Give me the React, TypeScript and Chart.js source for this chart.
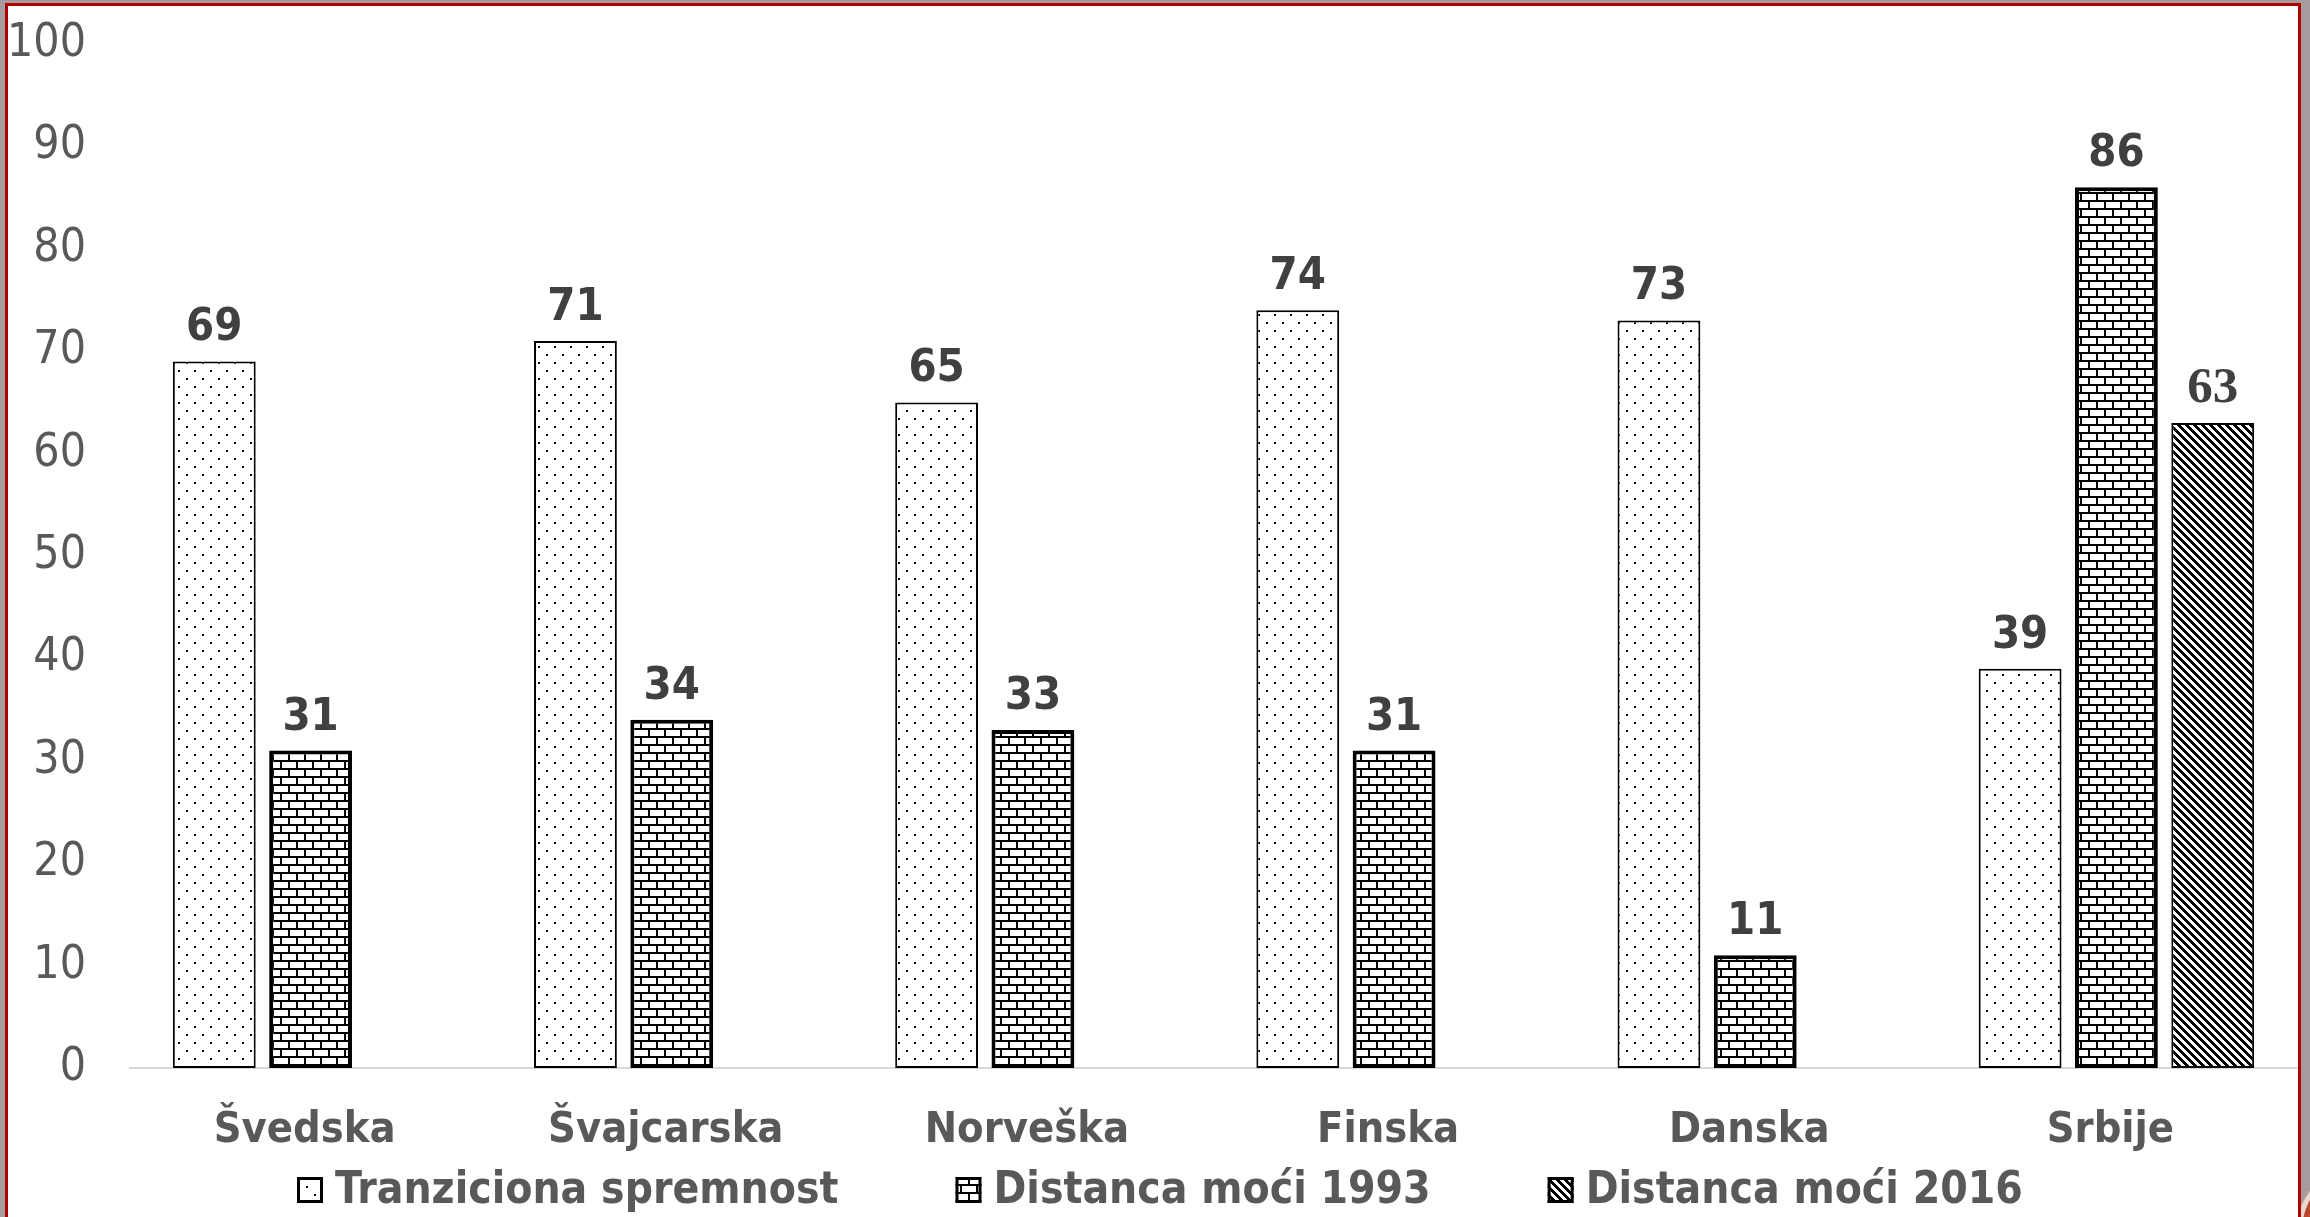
import React, { useEffect, useRef } from 'react';
import { Chart, registerables } from 'chart.js';

Chart.register(...registerables);

// ---------- data ----------
const categories = ['Švedska', 'Švajcarska', 'Norveška', 'Finska', 'Danska', 'Srbije'];
const seriesLabels = ['Tranziciona spremnost', 'Distanca moći 1993', 'Distanca moći 2016'];
const tranzicionaSpremnost = [69, 71, 65, 74, 73, 39];
const distancaMoci1993 = [31, 34, 33, 31, 11, 86];
const distancaMoci2016 = [null, null, null, null, null, 63];
const yMin = 0;
const yMax = 100;
const yStep = 10;

function hasFont(name: string): boolean {
  const ctx = document.createElement('canvas').getContext('2d')!;
  const s = 'Švajcarska mmwwii 0123456789';
  for (const b of ['monospace', 'serif', 'sans-serif']) {
    ctx.font = `40px ${b}`;
    const a = ctx.measureText(s).width;
    ctx.font = `40px "${name}", ${b}`;
    const c = ctx.measureText(s).width;
    if (Math.abs(a - c) > 0.5) return true;
  }
  return false;
}

function makeTile(w: number, h: number, draw: (g: CanvasRenderingContext2D) => void) {
  const c = document.createElement('canvas');
  c.width = w;
  c.height = h;
  const g = c.getContext('2d')!;
  g.fillStyle = '#ffffff';
  g.fillRect(0, 0, w, h);
  g.fillStyle = '#000000';
  draw(g);
  return c;
}

export default function App() {
  const canvasRef = useRef<HTMLCanvasElement | null>(null);

  useEffect(() => {
    const canvas = canvasRef.current!;
    const ctx0 = canvas.getContext('2d')!;

    let fam = '"DejaVu Sans", sans-serif';
    let k = 0.9;
    if (hasFont('DejaVu Sans Condensed')) {
      fam = '"DejaVu Sans Condensed", "DejaVu Sans", sans-serif';
      k = 1;
    }
    const tickSize = Math.round(46 * k);
    const catSize = Math.round(43 * k);
    const valSize = Math.round(45 * k);
    const legSize = Math.round(44 * k);

    const dotTile = makeTile(16, 16, (g) => {
      g.fillRect(2, 2, 2, 2);
      g.fillRect(10, 10, 2, 2);
    });
    const brickTile = makeTile(16, 16, (g) => {
      g.fillRect(0, 0, 16, 2);
      g.fillRect(0, 8, 16, 2);
      g.fillRect(0, 0, 2, 8);
      g.fillRect(8, 8, 2, 8);
    });
    const stripeTile = makeTile(8, 8, (g) => {
      for (let y = 0; y < 8; y++) {
        for (let x = 0; x < 8; x++) {
          if ((((x - y) % 8) + 8) % 8 < 4) g.fillRect(x, y, 1, 1);
        }
      }
    });
    const dotPat = ctx0.createPattern(dotTile, 'repeat')!;
    const brickPat = ctx0.createPattern(brickTile, 'repeat')!;
    const stripePat = ctx0.createPattern(stripeTile, 'repeat')!;

    const valueLabels = {
      id: 'valueLabels',
      afterDatasetsDraw(chart: any) {
        const ctx = chart.ctx as CanvasRenderingContext2D;
        ctx.save();
        ctx.textAlign = 'center';
        ctx.textBaseline = 'alphabetic';
        ctx.fillStyle = '#404040';
        chart.data.datasets.forEach((ds: any, di: number) => {
          const meta = chart.getDatasetMeta(di);
          meta.data.forEach((bar: any, i: number) => {
            const v = ds.data[i];
            if (v === null || v === undefined) return;
            ctx.font = di === 2 ? 'bold 51px "Liberation Serif", serif' : `bold ${valSize}px ${fam}`;
            ctx.fillText(String(v), bar.x, bar.y - 21);
          });
        });
        ctx.restore();
      },
    };

    const customLegend = {
      id: 'customLegend',
      afterDraw(chart: any) {
        const ctx = chart.ctx as CanvasRenderingContext2D;
        ctx.save();
        ctx.font = `bold ${legSize}px ${fam}`;
        const BOX = 26;
        const GAP = 12;
        const ITEM_GAP = 117;
        const CX = 1160;
        const BASE = 1203;
        const BOX_TOP = 1177;
        const items = chart.data.datasets.map((ds: any) => ({
          text: ds.label as string,
          fill: ds.backgroundColor,
        }));
        const widths = items.map((it: any) => BOX + GAP + ctx.measureText(it.text).width);
        const total = widths.reduce((a: number, b: number) => a + b, 0) + ITEM_GAP * (items.length - 1);
        let x = Math.round(CX - total / 2);
        items.forEach((it: any, i: number) => {
          ctx.fillStyle = it.fill;
          ctx.fillRect(x, BOX_TOP, BOX, BOX);
          ctx.strokeStyle = '#000000';
          ctx.lineWidth = 3;
          ctx.strokeRect(x + 1.5, BOX_TOP + 1.5, BOX - 3, BOX - 3);
          ctx.fillStyle = '#595959';
          ctx.textAlign = 'left';
          ctx.textBaseline = 'alphabetic';
          ctx.fillText(it.text, x + BOX + GAP, BASE);
          x += widths[i] + ITEM_GAP;
        });
        ctx.restore();
      },
    };

    const chart = new Chart(canvas, {
      type: 'bar',
      data: {
        labels: categories,
        datasets: [
          {
            label: seriesLabels[0],
            data: tranzicionaSpremnost,
            backgroundColor: dotPat,
            borderColor: '#000000',
            borderWidth: 2,
            borderSkipped: false,
          },
          {
            label: seriesLabels[1],
            data: distancaMoci1993,
            backgroundColor: brickPat,
            borderColor: '#000000',
            borderWidth: 4,
            borderSkipped: false,
          },
          {
            label: seriesLabels[2],
            data: distancaMoci2016,
            backgroundColor: stripePat,
            borderColor: '#000000',
            borderWidth: 2,
            borderSkipped: false,
          },
        ],
      },
      options: {
        animation: false,
        responsive: true,
        maintainAspectRatio: false,
        layout: { padding: { left: 0, right: 13, top: 44, bottom: 64 } },
        datasets: { bar: { categoryPercentage: 0.8, barPercentage: 0.86 } },
        plugins: {
          legend: { display: false },
          tooltip: { enabled: false },
          title: { display: false },
        },
        scales: {
          x: {
            grid: { display: false, drawTicks: false },
            border: { display: true, color: '#d9d9d9', width: 2 },
            ticks: {
              color: '#595959',
              font: { family: fam, size: catSize, weight: 'bold' },
              padding: 37,
              labelOffset: -6,
            },
            afterFit: (s: any) => {
              s.height = 85;
              s.paddingLeft = 0;
              s.paddingRight = 0;
            },
          },
          y: {
            min: yMin,
            max: yMax,
            grid: { display: false, drawTicks: false },
            border: { display: false },
            ticks: {
              stepSize: yStep,
              color: '#595959',
              font: { family: fam, size: tickSize, weight: 'normal' },
              padding: 44,
            },
            afterFit: (s: any) => {
              s.width = 130;
              s.paddingTop = 0;
              s.paddingBottom = 0;
            },
          },
        },
      },
      plugins: [valueLabels, customLegend],
    } as any);

    return () => {
      chart.destroy();
    };
  }, []);

  return (
    <div
      style={{
        position: 'absolute',
        left: 0,
        top: 0,
        width: 2310,
        height: 1217,
        overflow: 'hidden',
        background: '#a69c9e',
      }}
    >
      <div
        style={{
          position: 'absolute',
          left: 2296,
          top: 1166,
          width: 130,
          height: 130,
          borderRadius: '50%',
          background: '#b9472c',
          boxShadow: 'inset 6px 0 0 0 #e8d8d0',
        }}
      />
      <div
        style={{
          position: 'absolute',
          left: 5,
          top: 3,
          width: 2290,
          height: 1230,
          background: '#ffffff',
          border: '3px solid #b00000',
        }}
      />
      <div style={{ position: 'absolute', left: 0, top: 0, width: 2310, height: 1217 }}>
        <canvas ref={canvasRef} style={{ display: 'block' }} />
      </div>
    </div>
  );
}
